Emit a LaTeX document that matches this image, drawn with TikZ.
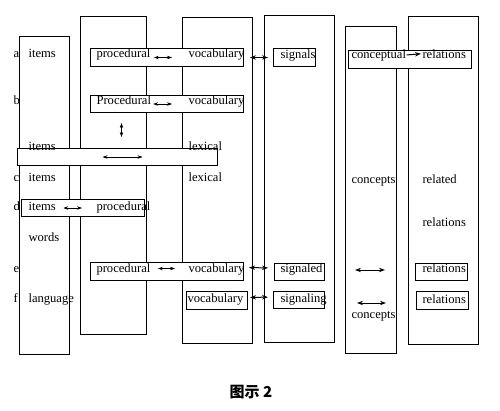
\documentclass[tikz,border=0pt]{standalone}
\usepackage{fontspec}
\setmainfont{Liberation Serif}
\newfontfamily\cjk{Noto Sans CJK SC}
\usetikzlibrary{arrows.meta}
\tikzset{
  wd/.style={anchor=base west, inner sep=0pt},
  bx/.style={draw, fill=white, anchor=north west, inner sep=0pt},
  lk/.style={{Stealth[length=5pt,width=3.4pt]}-{Stealth[length=5pt,width=3.4pt]}, line width=0.6pt},
  blk/.style={{Stealth[length=6pt,width=4.4pt]}-{Stealth[length=6pt,width=4.4pt]}, line width=1pt}
}
\begin{document}
\begin{tikzpicture}[x=1pt,y=-1pt,line width=1pt,font=\fontsize{12.6}{14}\selectfont]
\useasboundingbox (0,0) rectangle (500,410);
\draw (19,36) rectangle (69,354);
\draw (80,16) rectangle (146,334);
\draw (182,17) rectangle (252,343);
\draw (264,15) rectangle (334,342);
\draw (345,26) rectangle (396,353);
\draw (408,16) rectangle (478,344);
\node[bx, minimum width=153, minimum height=18] (bA) at (90,48) {};
\node[bx, minimum width=42, minimum height=18] (sA) at (273,48) {};
\node[bx, minimum width=123, minimum height=18] (cA) at (348,50) {};
\node[bx, minimum width=153, minimum height=17] (bB) at (90,95) {};
\node[bx, minimum width=200, minimum height=17] (bL) at (17,148) {};
\node[bx, minimum width=123, minimum height=17] (bD) at (21,199) {};
\node[bx, minimum width=153, minimum height=18] (bE) at (90,262) {};
\node[bx, minimum width=50, minimum height=17] (sE) at (274,263) {};
\node[bx, minimum width=52, minimum height=17] (rE) at (415,263) {};
\node[bx, minimum width=61, minimum height=18] (vF) at (186,291) {};
\node[bx, minimum width=51, minimum height=17] (sF) at (273,291) {};
\node[bx, minimum width=52, minimum height=18] (rF) at (416,291) {};
\node[wd] (la) at (13,57) {a};
\node[wd] (lb) at (13,104) {b};
\node[wd] (lc) at (13,181.5) {c};
\node[wd] (ld) at (13,210.5) {d};
\node[wd] (le) at (13,272) {e};
\node[wd] (lf) at (13,302) {f};
\node[wd] (itemsA) at (28,57) {items};
\node[wd] (procA) at (96,57) {procedural};
\node[wd] (vocA) at (188,57) {vocabulary};
\node[wd] (sigA) at (280,58) {signals};
\node[wd] (concA) at (351,58) {conceptual};
\node[wd] (relA) at (422,58) {relations};
\node[wd] (procB) at (96,104) {Procedural};
\node[wd] (vocB) at (188,104) {vocabulary};
\node[wd] (itemsL) at (28,150.5) {items};
\node[wd] (lexL) at (188,150.5) {lexical};
\node[wd] (itemsC) at (28,181.5) {items};
\node[wd] (lexC) at (188,181.5) {lexical};
\node[wd] (concC) at (351,183) {concepts};
\node[wd] (relC) at (422,183) {related};
\node[wd] (itemsD) at (28,210.5) {items};
\node[wd] (procD) at (96,210.5) {procedural};
\node[wd] (relD) at (422,226.5) {relations};
\node[wd] (words) at (28,241) {words};
\node[wd] (procE) at (96,272) {procedural};
\node[wd] (vocE) at (188,272) {vocabulary};
\node[wd] (sigE) at (280,272.5) {signaled};
\node[wd] (relE) at (422,272) {relations};
\node[wd] (langF) at (28,302) {language};
\node[wd] (vocF) at (187,302) {vocabulary};
\node[wd] (sigF) at (280,302.5) {signaling};
\node[wd] (relF) at (422,303) {relations};
\node[wd] (concF) at (351,318) {concepts};
\coordinate (e5a) at (355,270);
\coordinate (e5b) at (385,270);
\coordinate (f5a) at (357,303);
\coordinate (f5b) at (386,303);
\draw[lk, shorten <=3pt, shorten >=16pt] (procA.east |- bA.center) -- (vocA.west |- bA.center);
\draw[lk, shorten <=1.5pt, shorten >=16pt] (procB.east |- bB.center) -- (vocB.west |- bB.center);
\draw[lk] ([xshift=-15pt]bL.center) -- ([xshift=25pt]bL.center);
\draw[lk, shorten <=7pt, shorten >=14pt] (itemsD.east |- bD.center) -- (procD.west |- bD.center);
\draw[lk, shorten <=7pt, shorten >=13pt] ([yshift=3pt]procE.east |- bE.center) -- ([yshift=3pt]vocE.west |- bE.center);
\draw[lk, shorten <=10pt, shorten >=11pt] ([xshift=-45.5pt]bB.south) -- ([xshift=-45.5pt]bB.south |- bL.north);
\draw[blk, shorten <=6pt, shorten >=5pt] (bA.east) -- (sA.west);
\draw[blk, shorten <=5pt, shorten >=6pt] ([yshift=4pt]bE.east) -- ([yshift=4pt]sE.west);
\draw[blk, shorten <=2pt, shorten >=5pt] ([yshift=3pt]vF.east) -- ([yshift=3pt]sF.west);
\draw[-{Stealth[length=6pt,width=4.4pt]}, line width=1pt, shorten >=1pt] (concA.east) -- (relA.west);
\draw[blk] (e5a) -- (e5b);
\draw[blk] (f5a) -- (f5b);
\node[font=\cjk\bfseries\fontsize{15}{18}\selectfont] (cap) at (251,392) {图示 2};
\end{tikzpicture}
\end{document}
